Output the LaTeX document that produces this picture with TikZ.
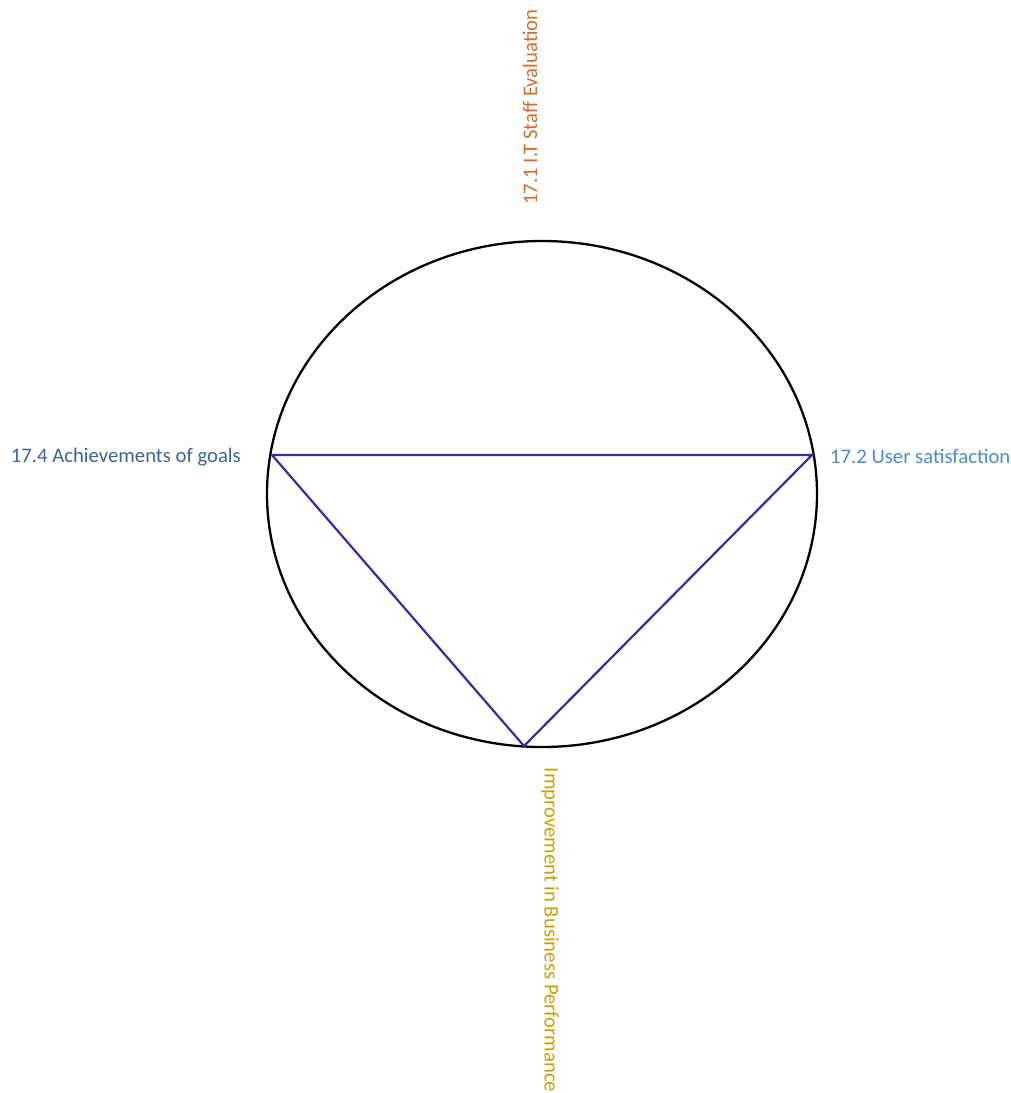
\documentclass[tikz,border=0pt]{standalone}
\usepackage{fontspec}
\setmainfont{Carlito}
\definecolor{orangetxt}{HTML}{CF6E2D}
\definecolor{darkbluetxt}{HTML}{3D6494}
\definecolor{lightbluetxt}{HTML}{4A8BCA}
\definecolor{goldtxt}{HTML}{C9A000}
\definecolor{tri}{HTML}{3A2A9E}
\tikzset{
  lbl/.style={inner sep=0pt, font=\fontsize{20.7}{24}\selectfont},
  ring/.style={draw=black, line width=2.3pt},
  edge/.style={draw=tri, line width=2.2pt, line join=miter}
}
\begin{document}
\begin{tikzpicture}[x=1pt,y=-1pt]
\useasboundingbox (0,0) rectangle (1010,1093);
\draw[ring] (542,494) ellipse [x radius=275, y radius=253];
\coordinate (L) at (272,455);
\coordinate (R) at (812,455);
\coordinate (B) at (524,746);
\draw[edge] (L) -- (R) -- (B) -- cycle;
\node[lbl, text=orangetxt, rotate=90] (top) at (530,107) {17.1 I.T Staff Evaluation};
\node[lbl, text=darkbluetxt, anchor=east] (left) at (241,457) {17.4 Achievements of goals};
\node[lbl, text=lightbluetxt, anchor=west] (right) at (830,456) {17.2 User satisfaction};
\node[lbl, text=goldtxt, rotate=-90] (bottom) at (550,930) {Improvement in Business Performance};
\end{tikzpicture}
\end{document}
